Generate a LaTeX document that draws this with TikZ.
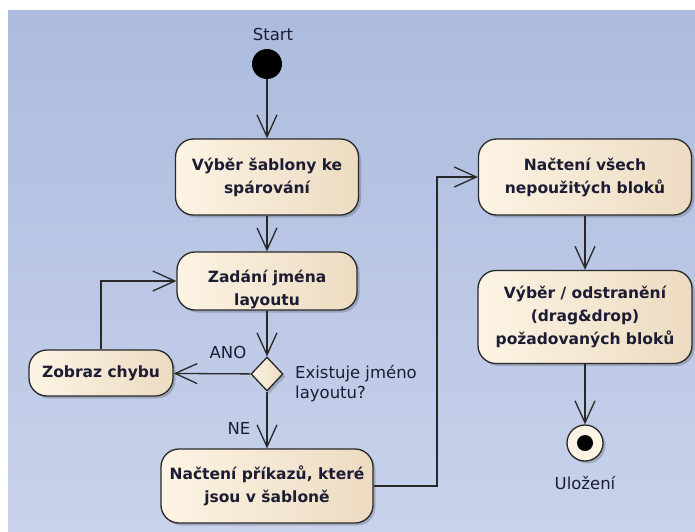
\documentclass[tikz,border=0pt]{standalone}
\usepackage{fontspec}
\setmainfont{DejaVu Sans}
\usetikzlibrary{arrows.meta,shapes.geometric,shadows}
\definecolor{bgtop}{RGB}{172,187,222}
\definecolor{bgbot}{RGB}{200,210,235}
\definecolor{boxl}{RGB}{253,244,228}
\definecolor{boxr}{RGB}{236,219,193}
\definecolor{ink}{RGB}{28,28,52}
\definecolor{edge}{RGB}{40,40,40}
\tikzset{
  soft/.style={drop shadow={shadow xshift=2.5pt, shadow yshift=-2.5pt,
    fill=black, opacity=0.18}},
  act/.style={draw=edge, line width=1.3pt, rounded corners=18pt, soft,
    left color=boxl, right color=boxr, align=center, inner sep=0pt,
    font=\bfseries\fontsize{15.5}{23}\selectfont, text=ink},
  acttext/.style={align=center, inner sep=0pt,
    font=\bfseries\fontsize{15.5}{23}\selectfont, text=ink},
  flow/.style={draw=edge, line width=1.3pt,
    -{Straight Barb[length=22pt,width=20pt,line width=1.3pt]}},
  lbl/.style={font=\fontsize{16.5}{20}\selectfont, text=ink, inner sep=0pt},
}
\begin{document}
\begin{tikzpicture}[x=1pt,y=-1pt]
  % canvas
  \useasboundingbox (0,0) rectangle (695,531);
  \fill[white] (0,0) rectangle (695,531);
  \shade[top color=bgtop, bottom color=bgbot] (8,10) rectangle (695,531);

  % initial node
  \node[circle, fill=black, minimum size=30pt, inner sep=0pt] (start) at (267,64) {};
  \node[lbl] (startlbl) at (273,34) {Start};

  % actions, left column
  \node[act, minimum width=183pt, minimum height=76pt] (b1) at (267,177)
    {Výběr šablony ke\\spárování};
  \node[act, minimum width=180pt, minimum height=58pt] (b2) at (267,281) {};
  \node[acttext] (b2t) at (267,289) {Zadání jména\\layoutu};
  \node[diamond, draw=edge, line width=1.3pt, left color=boxl, right color=boxr, soft,
    minimum width=32pt, minimum height=34pt, inner sep=0pt] (dec) at (267,374) {};
  \node[act, minimum width=144pt, minimum height=46pt] (err) at (101,373)
    {Zobraz chybu};
  \node[act, minimum width=212pt, minimum height=74pt] (b3) at (267,486)
    {Načtení příkazů, které\\jsou v šabloně};

  % actions, right column
  \node[act, minimum width=213pt, minimum height=76pt] (b4) at (585,177)
    {Načtení všech\\nepoužitých bloků};
  \node[act, minimum width=214pt, minimum height=93pt] (b5) at (585,317)
    {Výběr / odstranění\\(drag\&drop)\\požadovaných bloků};

  % final node
  \node[circle, draw=edge, line width=1.3pt, fill=boxl, soft, minimum size=36pt, inner sep=0pt] (fin) at (585,443) {};
  \node[circle, fill=black, minimum size=16pt, inner sep=0pt] (finc) at (fin) {};
  \node[lbl] (finlbl) at (585,483) {Uložení};

  % guard and decision labels
  \node[lbl] (ano) at (228,352) {ANO};
  \node[lbl] (ne) at (239,428) {NE};
  \node[lbl, anchor=west, align=left] (q) at (295,384) {Existuje jméno\\layoutu?};

  % control flows
  \draw[flow] (start) -- (b1);
  \draw[flow] (b1) -- (b2);
  \draw[flow] (b2) -- (dec);
  \draw[flow] (dec) -- (err);
  \draw[flow] (err.north) |- (b2.west);
  \draw[flow] (dec) -- (b3);
  \draw[flow] (b3.east) -| (437,240) |- (b4.west);
  \draw[flow] (b4) -- (b5);
  \draw[flow] (b5) -- (fin);
\end{tikzpicture}
\end{document}
